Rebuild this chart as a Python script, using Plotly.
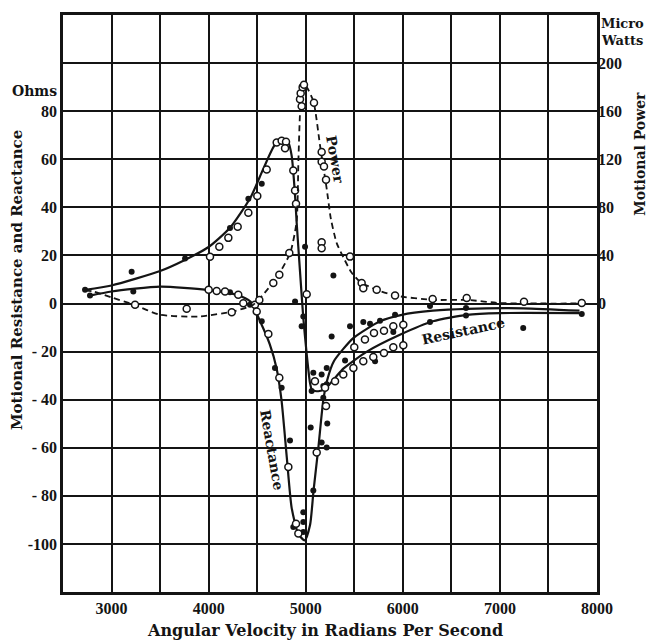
import plotly.graph_objects as go

# ---------------- data ----------------
# Motional resistance curve (ohms)
res_x = [2727, 3000, 3500, 3750, 4000, 4220, 4430, 4563, 4683, 4770, 4820, 4855, 4890, 4906,
         4940, 4975, 5010, 5044, 5065, 5130, 5200, 5300, 5390, 5630, 5970, 6310, 6660, 7000, 7820]
res_y = [5.7, 7.5, 13.5, 18, 23.5, 31.5, 44, 56, 66, 68, 67, 61.5, 45, 34,
         14, -6, -21, -33, -36, -36.5, -35.5, -31, -27, -20, -13, -7.4, -4.7, -4, -4]

# Motional reactance curve (ohms)
rea_x = [2778, 3000, 3500, 3980, 4290, 4430, 4530, 4630, 4700, 4750, 4805, 4855, 4925, 4990,
         5045, 5080, 5130, 5180, 5220, 5290, 5490, 5765, 5990, 6310, 6660, 7240, 7820]
rea_y = [3.3, 5, 7, 5.7, 3.6, 0.8, -7.4, -17, -27, -40, -64, -85, -96, -98.5,
         -92, -78, -60, -40.5, -32, -24, -14.4, -7.4, -4.7, -3, -2.2, -2, -3]

# Motional power curve (micro watts)
pow_x = [2730, 2810, 3000, 3230, 3500, 3900, 4250, 4460, 4615, 4720, 4840, 4906, 4925, 4945,
         4975, 5010, 5080, 5150, 5215, 5260, 5320, 5390, 5470, 5560, 5730, 5920, 6310, 6660, 7000, 7820]
pow_y = [11, 10, 5, -1, -9.4, -10.8, -6.6, -1, 12.6, 24, 42, 68, 120, 164,
         182, 180, 168, 130, 96, 70, 50, 38, 26, 18, 11.4, 6.6, 3, 3, 0.4, 0]

# measured points, filled dots (ohms)
dot_x = [2727, 2778, 3207, 3224, 3757, 4220, 4220, 4409, 4547, 4426, 4547, 4683, 4752, 4838,
         4872, 4975, 4975, 4975, 5051, 5078, 5164, 5216, 5222, 4890, 4993, 5285, 4975, 4958,
         5267, 5456, 5593, 5662, 5765, 5920, 6280, 6280, 6651, 6651, 7240, 7843, 5902, 5405,
         5714, 5216, 5078, 5164, 5181, 5181, 5061, 5216]
dot_y = [5.7, 3.3, 13.2, 5, 18.7, 31.4, 4.7, 43.6, 49.8, -0.5, -7.4, -26.8, -35, -57,
         -93, -86.8, -90.9, -95, -51.6, -77.8, -57.8, -59.9, -49.9, 0.8, 23.6, 11.6, -5.4, -9.5,
         -13.7, -9.5, -7.7, -8.4, -7.2, -4.7, -1, -7.7, -1.9, -5, -10.2, -4.4, -11.9, -23.7,
         -24, -26.8, -28.8, -29.5, -34.3, -39.2, -36.4, -33.6]

# measured points, open circles (ohms)
ring_x = [4014, 4110, 4203, 4299, 4409, 4501, 4598, 4701, 4752, 4797, 4787, 4872, 4890, 4900,
          5010, 4000, 4083, 4169, 4305, 4477, 4495, 4615, 4728, 4821, 4900, 4924, 5113, 5209,
          5095, 5199, 5302, 5387, 5491, 5593, 5696, 5806, 5902, 6005, 5500, 5610, 5703, 5806,
          5902, 6005]
ring_y = [19.4, 23.6, 27.3, 31.9, 37.7, 44.7, 55.7, 67, 67.7, 67.3, 64.6, 55.3, 47, 41.5,
          3.8, 5.7, 5.2, 5, 3.6, -0.5, -3.3, -12.7, -30.9, -68, -91.6, -95.7, -62, -42.6,
          -32.3, -35, -32.3, -29.5, -26.8, -24, -22.3, -20.6, -18.2, -17.4, -18.2, -15, -12.3, -11.3,
          -9.5, -8.8]

# measured power points, open circles (micro watts)
pring_x = [4941, 4948, 4958, 4968, 4982, 5085, 5164, 5164, 5188, 5209, 4831, 4728, 4666, 4522,
           5164, 5164, 5456, 5576, 5593, 5731, 5920, 6307, 6658, 7248, 7843, 3242, 3774, 4238, 4357]
pring_y = [170, 175, 164, 180, 182, 167, 126, 118, 114, 103, 42, 24, 17, 3,
           51, 46, 39, 17, 12.6, 11.4, 6.6, 3.8, 4.5, 1.5, 0.4, -1, -4.4, -7.2, 0.2]

x_ticks = [3000, 3500, 4000, 4500, 5000, 5500, 6000, 6500, 7000, 7500, 8000]
x_text = ["3000", "", "4000", "", "5000", "", "6000", "", "7000", "", "8000"]
y_ticks = [-100, -80, -60, -40, -20, 0, 20, 40, 60, 80, 100]
y_text = ["-100", "- 80", "- 60", "- 40", "- 20", "0", "20", "40", "60", "80", ""]
y2_ticks = [0, 40, 80, 120, 160, 200]
y2_text = ["0", "40", "80", "120", "160", "200"]

# ---------------- figure ----------------
INK = "#141414"
FONT = "Liberation Serif"
WIDE = "DejaVu Serif"

fig = go.Figure()

fig.add_trace(go.Scatter(x=res_x, y=res_y, mode="lines",
                         line=dict(color=INK, width=2.2, shape="spline", smoothing=0.6),
                         hoverinfo="skip", showlegend=False))
fig.add_trace(go.Scatter(x=rea_x, y=rea_y, mode="lines",
                         line=dict(color=INK, width=2.2, shape="spline", smoothing=0.6),
                         hoverinfo="skip", showlegend=False))
fig.add_trace(go.Scatter(x=pow_x, y=pow_y, mode="lines", yaxis="y2",
                         line=dict(color=INK, width=1.8, dash="6px,4px", shape="spline", smoothing=0.6),
                         hoverinfo="skip", showlegend=False))

fig.add_trace(go.Scatter(x=dot_x, y=dot_y, mode="markers",
                         marker=dict(symbol="circle", size=6, color=INK),
                         showlegend=False))
fig.add_trace(go.Scatter(x=ring_x, y=ring_y, mode="markers",
                         marker=dict(symbol="circle", size=7, color="white",
                                     line=dict(color=INK, width=1.5)),
                         showlegend=False))
fig.add_trace(go.Scatter(x=pring_x, y=pring_y, mode="markers", yaxis="y2",
                         marker=dict(symbol="circle", size=7, color="white",
                                     line=dict(color=INK, width=1.5)),
                         showlegend=False))

tick_font = dict(family=FONT, size=16, color=INK, weight="bold")

# page body adds an 8px offset, so the figure is sized to fit inside the window
fig.update_layout(
    width=646, height=632,
    margin=dict(l=55, r=57, t=4, b=48),
    paper_bgcolor="white", plot_bgcolor="white",
    showlegend=False,
    xaxis=dict(range=[2500, 8000], tickmode="array", tickvals=x_ticks, ticktext=x_text,
               showgrid=True, gridcolor=INK, gridwidth=1.5, zeroline=False,
               showline=True, mirror=True, linecolor=INK, linewidth=2.6,
               ticks="", tickfont=tick_font),
    yaxis=dict(range=[-120, 120], tickmode="array", tickvals=y_ticks, ticktext=y_text,
               showgrid=True, gridcolor=INK, gridwidth=1.5, zeroline=False,
               showline=True, mirror=True, linecolor=INK, linewidth=2.6,
               ticks="", tickfont=tick_font),
    yaxis2=dict(range=[-240, 240], overlaying="y", side="right", tickmode="array",
                tickvals=y2_ticks, ticktext=y2_text, showgrid=False, zeroline=False,
                showline=False, ticks="", tickfont=tick_font),
)

def label(text, x, y, xref="paper", yref="paper", angle=0, size=14, xanchor="center", family=WIDE):
    fig.add_annotation(text=text, x=x, y=y, xref=xref, yref=yref, showarrow=False,
                       textangle=angle, xanchor=xanchor, yanchor="middle",
                       font=dict(family=family, size=size, color=INK, weight="bold"))

label("Ohms", -0.053, 0.869, size=14)
label("Micro", 1.004, 0.986, size=13, xanchor="left")
label("Watts", 1.004, 0.955, size=13, xanchor="left")
label("Motional Resistance and Reactance", -0.085, 0.54, angle=-90, size=15)
label("Motional Power", 1.081, 0.76, angle=-90, size=14)
label("Angular Velocity in Radians Per Second", 0.49, -0.066, size=16)

label("Power", 5300, 60, xref="x", yref="y", angle=80, size=14)
label("Reactance", 4650, -61, xref="x", yref="y", angle=80, size=14)
label("Resistance", 6620, -11.6, xref="x", yref="y", angle=-12, size=14)

fig.write_html("out.html")
